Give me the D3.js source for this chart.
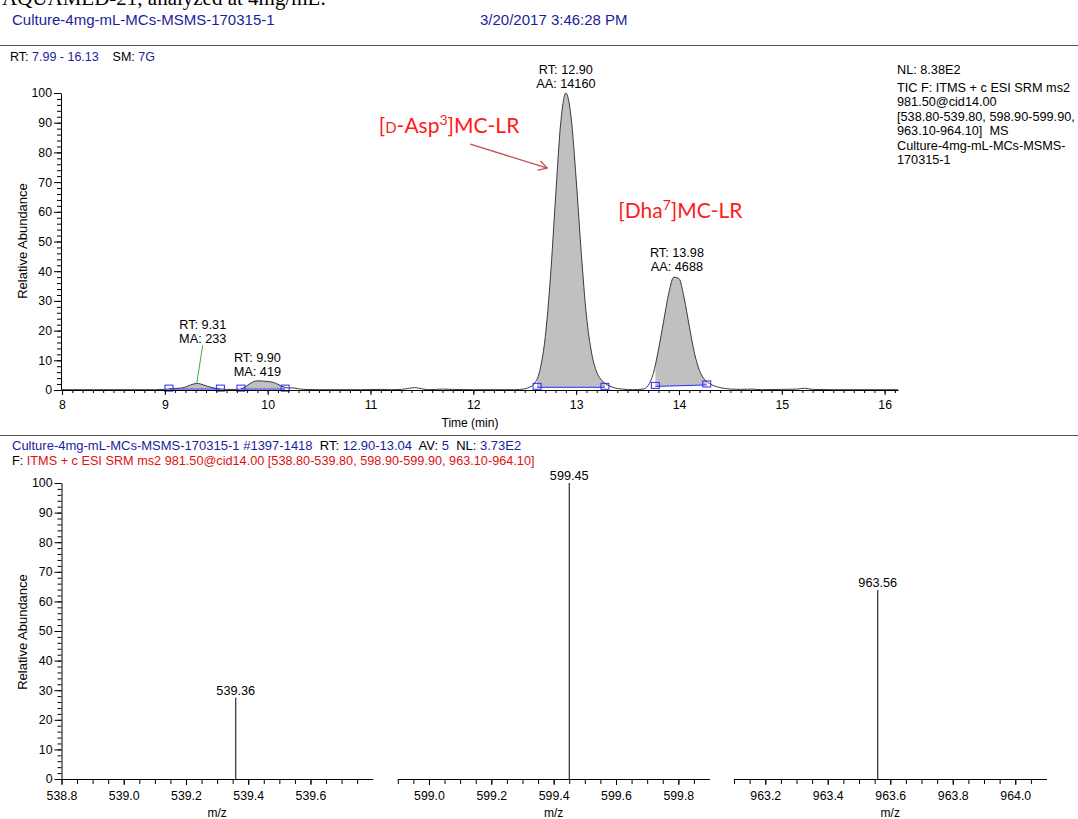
<!DOCTYPE html>
<html>
<head>
<meta charset="utf-8">
<script src="https://d3js.org/d3.v7.min.js"></script>
<style>
body{margin:0;background:#fff;}
svg{display:block;font-family:"Liberation Sans",Arial,sans-serif;}
text{white-space:pre;}
</style>
</head>
<body>
<div id="plot"></div>
<script>
/* chromatogram trace: retention time (min) and relative abundance (%) */
var rtTime = [7.99,8.50,8.90,9.00,9.05,9.10,9.15,9.20,9.25,9.31,9.35,9.40,9.45,9.50,9.55,9.60,9.70,9.75,9.80,9.85,9.90,9.95,10.00,10.05,10.10,10.15,10.20,10.25,10.30,10.35,10.50,10.90,11.10,11.20,11.30,11.38,11.43,11.50,11.56,11.70,11.80,12.00,12.40,12.50,12.55,12.60,12.65,12.70,12.75,12.80,12.85,12.90,12.95,13.00,13.05,13.10,13.15,13.20,13.25,13.30,13.35,13.40,13.45,13.55,13.65,13.70,13.75,13.80,13.85,13.90,13.95,14.00,14.05,14.10,14.15,14.20,14.25,14.30,14.35,14.40,14.45,14.50,14.60,14.70,14.80,15.00,15.15,15.22,15.30,15.50,16.13];
var rtAbund = [0.1,0.1,0.1,0.2,0.4,0.5,0.6,1.0,1.7,2.2,2.0,1.4,0.9,0.5,0.3,0.2,0.2,0.5,1.5,2.6,3.1,3.0,2.9,2.6,1.9,1.1,0.7,0.7,0.4,0.2,0.1,0.1,0.2,0.1,0.2,0.6,0.8,0.4,0.1,0.3,0.2,0.1,0.1,0.4,1.0,2.4,7.0,18,38,65,90,100,92,71,46,25,12.5,6,3.2,1.8,1.0,0.5,0.3,0.1,0.3,1.5,5.5,13.5,23,32.5,38,37.5,31,21.5,12.5,6.5,3.5,2.1,1.3,0.8,0.5,0.3,0.2,0.3,0.1,0.2,0.3,0.6,0.2,0.1,0.1];

// integrated peaks (start / end time, baseline level at each end)
var peakStart = [9.04, 9.74, 12.62, 13.77];
var peakEnd = [9.54, 10.17, 13.28, 14.27];
var peakBaseL = [0.3, 0.3, 0.9, 1.2];
var peakBaseR = [0.3, 0.3, 0.9, 1.7];

// peak labels
var labelRT = [9.31, 9.90, 12.90, 13.98];
var labelTop = [2.2, 3.1, 100, 38.5];
var labelArea = ['MA: 233', 'MA: 419', 'AA: 14160', 'AA: 4688'];

// tick values
var rtTicks = [8,9,10,11,12,13,14,15,16];
var abundTicks = [0,10,20,30,40,50,60,70,80,90,100];

// spectrum (three SRM windows)
var mzDomains = [[538.8,539.8],[598.9,599.9],[963.1,964.1]];
var mzTicks = [[538.8,539.0,539.2,539.4,539.6],[599.0,599.2,599.4,599.6,599.8],[963.2,963.4,963.6,963.8,964.0]];
var mzPeak = [539.36, 599.45, 963.56];
var mzAbund = [27.5, 100, 63.9];

var infoLines = ['NL: 8.38E2','TIC F: ITMS + c ESI SRM ms2','981.50@cid14.00','[538.80-539.80, 598.90-599.90,','963.10-964.10]  MS','Culture-4mg-mL-MCs-MSMS-','170315-1'];

var W = 1078, H = 819;
var navy = '#1c1c9c';

var svg = d3.select('#plot').append('svg')
    .attr('width',W)
    .attr('height',H);
var defs = svg.append('defs');

/* header */
svg.append('text')
    .attr('x',2).attr('y',5)
    .style('font-family','"Liberation Serif","Times New Roman",serif')
    .style('font-size','21px')
    .text('AQUAMED-21, analyzed at 4mg/mL.');

svg.append('text').attr('x',12).attr('y',24.5).style('font-size','15px').attr('fill',navy)
    .text('Culture-4mg-mL-MCs-MSMS-170315-1');
svg.append('text').attr('x',480).attr('y',24.5).style('font-size','15px').attr('fill',navy)
    .text('3/20/2017 3:46:28 PM');

svg.append('line').attr('x1',0).attr('x2',W).attr('y1',45.5).attr('y2',45.5).attr('stroke','#555');

var hdr = svg.append('text').attr('x',10).attr('y',60.5).style('font-size','12.5px');
hdr.append('tspan').text('RT: ');
hdr.append('tspan').attr('fill',navy).text('7.99 - 16.13');
hdr.append('tspan').text('    SM: ');
hdr.append('tspan').attr('fill',navy).text('7G');

/* top panel: chromatogram */
var xRT = d3.scaleLinear().domain([7.99,16.13]).range([61,898]);
var yTop = d3.scaleLinear().domain([0,100]).range([390,93]);

var trace = rtTime.map(function(t,i){ return {t:t, a:rtAbund[i]}; });

// grey filled peaks, clipped to each integration window
peakStart.forEach(function(s,i){
    var e = peakEnd[i];
    var base = d3.scaleLinear().domain([s,e]).range([peakBaseL[i],peakBaseR[i]]);
    defs.append('clipPath').attr('id','pk'+i)
        .append('rect')
        .attr('x',xRT(s)).attr('y',0)
        .attr('width',xRT(e)-xRT(s)).attr('height',H);
    svg.append('path')
        .datum(trace)
        .attr('clip-path','url(#pk'+i+')')
        .attr('fill','#c0c0c0')
        .attr('d', d3.area()
            .x(function(d){return xRT(d.t);})
            .y0(function(d){return yTop(base(d.t));})
            .y1(function(d){return yTop(d.a);})
            .curve(d3.curveMonotoneX));
});

// trace line
svg.append('path')
    .datum(trace)
    .attr('fill','none')
    .attr('stroke','#3a3a3a')
    .attr('stroke-width',1)
    .attr('d', d3.line()
        .x(function(d){return xRT(d.t);})
        .y(function(d){return yTop(d.a);})
        .curve(d3.curveMonotoneX));

// blue integration baselines + markers
peakStart.forEach(function(s,i){
    var e = peakEnd[i];
    svg.append('line')
        .attr('x1',xRT(s)).attr('x2',xRT(e))
        .attr('y1',yTop(peakBaseL[i])).attr('y2',yTop(peakBaseR[i]))
        .attr('stroke','#2a2aff').attr('stroke-width',1);
    [[s,peakBaseL[i]],[e,peakBaseR[i]]].forEach(function(p){
        svg.append('rect')
            .attr('x',xRT(p[0])-4).attr('y',yTop(p[1])-4)
            .attr('width',8).attr('height',6)
            .attr('fill','none').attr('stroke','#2a2aff').attr('stroke-width',1);
    });
});

// axes
svg.append('g').attr('transform','translate(0,390)')
    .call(d3.axisBottom(xRT).tickValues(rtTicks).tickSize(5).tickSizeOuter(0).tickPadding(5).tickFormat(d3.format('d')));
svg.append('g').attr('transform','translate(0,390)')
    .call(d3.axisBottom(xRT).tickValues(d3.range(80,162).map(function(v){return v/10;})).tickSize(3).tickFormat(''))
    .select('.domain').remove();

svg.append('g').attr('transform','translate(61,0)')
    .call(d3.axisLeft(yTop).tickValues(abundTicks).tickSize(7).tickSizeOuter(0).tickPadding(2));
svg.append('g').attr('transform','translate(61,0)')
    .call(d3.axisLeft(yTop).tickValues(d3.range(0,101,2)).tickSize(4).tickFormat(''))
    .select('.domain').remove();

svg.append('text')
    .attr('transform','translate(22,241) rotate(-90)')
    .attr('text-anchor','middle').attr('dy','0.35em')
    .style('font-size','13px')
    .text('Relative Abundance');
svg.append('text')
    .attr('x',470).attr('y',427)
    .attr('text-anchor','middle')
    .style('font-size','12px')
    .text('Time (min)');

// peak labels
labelRT.forEach(function(rt,i){
    var cx = xRT(rt), yb = yTop(labelTop[i]) - 5;
    if (i == 0) {
        // first label is lifted and tied back with a green leader
        cx = xRT(rt) + 6;
        yb = 343;
        svg.append('line')
            .attr('x1',cx).attr('y1',yb+2)
            .attr('x2',xRT(rt)).attr('y2',yTop(labelTop[i]))
            .attr('stroke','#3cb043').attr('stroke-width',1);
    }
    var t = svg.append('text').attr('text-anchor','middle').style('font-size','12.7px');
    t.append('tspan').attr('x',cx).attr('y',yb-14).text('RT: ' + rt.toFixed(2));
    t.append('tspan').attr('x',cx).attr('y',yb).text(labelArea[i]);
});

// compound annotations (red)
var red = '#ff1a1a';
var a1 = svg.append('text')
    .attr('x',xRT(11.08)).attr('y',yTop(86.5))
    .attr('fill',red)
    .style('font-family','Lato,"Open Sans",sans-serif')
    .style('font-size','21px');
a1.append('tspan').text('[');
a1.append('tspan').style('font-size','15px').text('D');
a1.append('tspan').text('-Asp');
a1.append('tspan').attr('dy',-8).style('font-size','14px').text('3');
a1.append('tspan').attr('dy',8).text(']MC-LR');

var a2 = svg.append('text')
    .attr('x',xRT(13.41)).attr('y',yTop(57.9))
    .attr('fill',red)
    .style('font-family','Lato,"Open Sans",sans-serif')
    .style('font-size','21px');
a2.append('tspan').text('[Dha');
a2.append('tspan').attr('dy',-8).style('font-size','14px').text('7');
a2.append('tspan').attr('dy',8).text(']MC-LR');

// arrow to the big peak
var ax0 = xRT(11.97), ay0 = yTop(82.8), ax1 = xRT(12.72), ay1 = yTop(74.7);
var ang = Math.atan2(ay1-ay0, ax1-ax0);
svg.append('line').attr('x1',ax0).attr('y1',ay0).attr('x2',ax1).attr('y2',ay1)
    .attr('stroke','#c0504d').attr('stroke-width',1.3);
[-0.5,0.5].forEach(function(da){
    svg.append('line')
        .attr('x1',ax1).attr('y1',ay1)
        .attr('x2',ax1 - 10*Math.cos(ang+da)).attr('y2',ay1 - 10*Math.sin(ang+da))
        .attr('stroke','#c0504d').attr('stroke-width',1.3);
});

// info block on the right
svg.append('g').selectAll('text')
    .data(infoLines)
    .enter()
    .append('text')
    .attr('x',897)
    .attr('y',function(d,i){ return i==0 ? 74 : 77.5 + i*14.4; })
    .style('font-size','12.7px')
    .text(function(d){return d;});

/* lower panel: spectrum */
svg.append('line').attr('x1',0).attr('x2',W).attr('y1',435.5).attr('y2',435.5).attr('stroke','#555');

var h1 = svg.append('text').attr('x',12).attr('y',450).style('font-size','13px');
h1.append('tspan').attr('fill',navy).text('Culture-4mg-mL-MCs-MSMS-170315-1 #1397-1418  ');
h1.append('tspan').text('RT: ');
h1.append('tspan').attr('fill',navy).text('12.90-13.04  ');
h1.append('tspan').text('AV: ');
h1.append('tspan').attr('fill',navy).text('5  ');
h1.append('tspan').text('NL: ');
h1.append('tspan').attr('fill',navy).text('3.73E2');

var h2 = svg.append('text').attr('x',12).attr('y',464.5).style('font-size','12.7px');
h2.append('tspan').text('F: ');
h2.append('tspan').attr('fill','#e01010').text('ITMS + c ESI SRM ms2 981.50@cid14.00 [538.80-539.80, 598.90-599.90, 963.10-964.10]');

var yMS = d3.scaleLinear().domain([0,100]).range([779,483]);
var mzRanges = [[61.5,372.7],[397.8,709.5],[734,1046.5]];

mzDomains.forEach(function(dom,i){
    var x = d3.scaleLinear().domain(dom).range(mzRanges[i]);
    svg.append('g').attr('transform','translate(0,779)')
        .call(d3.axisBottom(x).tickValues(mzTicks[i]).tickSize(6).tickSizeOuter(0).tickPadding(6).tickFormat(d3.format('.1f')));
    svg.append('g').attr('transform','translate(0,779)')
        .call(d3.axisBottom(x).tickValues(d3.range(Math.round(dom[0]*20), Math.round(dom[1]*20)).map(function(v){return v/20;})).tickSize(5).tickFormat(''))
        .select('.domain').remove();
    svg.append('text')
        .attr('x',(mzRanges[i][0]+mzRanges[i][1])/2).attr('y',817)
        .attr('text-anchor','middle').style('font-size','12px')
        .text('m/z');
    svg.append('line')
        .attr('x1',x(mzPeak[i])).attr('x2',x(mzPeak[i]))
        .attr('y1',yMS(0)).attr('y2',yMS(mzAbund[i]))
        .attr('stroke','#000').attr('stroke-width',1);
    svg.append('text')
        .attr('x',x(mzPeak[i])).attr('y',yMS(mzAbund[i])-3)
        .attr('text-anchor','middle').style('font-size','12.7px')
        .text(mzPeak[i].toFixed(2));
});

svg.append('g').attr('transform','translate(61.5,0)')
    .call(d3.axisLeft(yMS).tickValues(abundTicks).tickSize(7).tickSizeOuter(0).tickPadding(2));
svg.append('g').attr('transform','translate(61.5,0)')
    .call(d3.axisLeft(yMS).tickValues(d3.range(0,101,2)).tickSize(4).tickFormat(''))
    .select('.domain').remove();

svg.append('text')
    .attr('transform','translate(22,632) rotate(-90)')
    .attr('text-anchor','middle').attr('dy','0.35em')
    .style('font-size','13px')
    .text('Relative Abundance');

svg.selectAll('.tick text').style('font-size','12.3px').style('font-family','"Liberation Sans",Arial,sans-serif');
</script>
</body>
</html>
